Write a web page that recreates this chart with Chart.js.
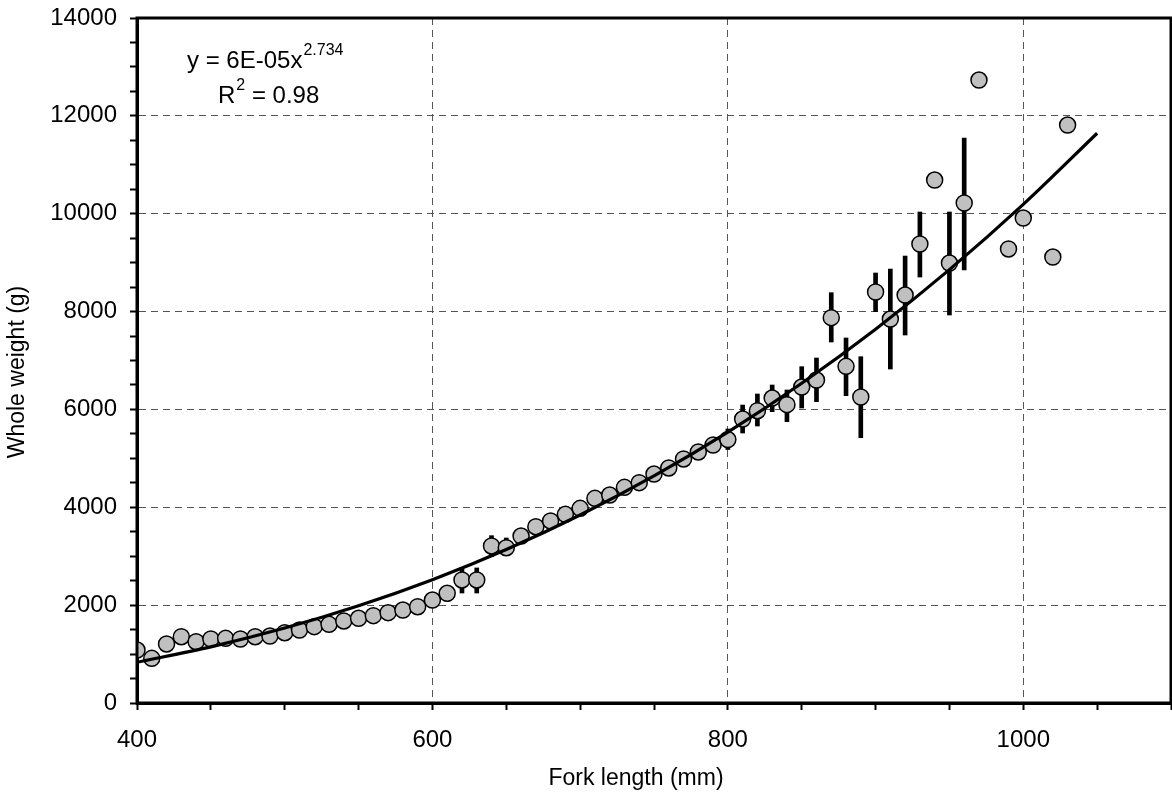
<!DOCTYPE html>
<html>
<head>
<meta charset="utf-8">
<script src="https://cdn.jsdelivr.net/npm/chart.js@4.4.1/dist/chart.umd.min.js"></script>
<style>
  html, body { margin: 0; padding: 0; background: #fff; overflow: hidden; }
  #wrap { width: 1172px; height: 801px; }
</style>
</head>
<body>
<div id="wrap"><canvas id="grafico"></canvas></div>
<script>
// fork length (mm) and mean whole weight (g)
const comprimento = [400, 410, 420, 430, 440, 450, 460, 470, 480, 490,
  500, 510, 520, 530, 540, 550, 560, 570, 580, 590,
  600, 610, 620, 630, 640, 650, 660, 670, 680, 690,
  700, 710, 720, 730, 740, 750, 760, 770, 780, 790,
  800, 810, 820, 830, 840, 850, 860, 870, 880, 890,
  900, 910, 920, 930, 940, 950, 960, 970, 990, 1000, 1020, 1030];
const peso = [1083, 913, 1206, 1355, 1253, 1308, 1322, 1308, 1355, 1369,
  1437, 1492, 1560, 1608, 1676, 1731, 1785, 1846, 1900, 1968,
  2105, 2242, 2514, 2514, 3209, 3174, 3413, 3603, 3720, 3856,
  3979, 4183, 4251, 4408, 4503, 4680, 4803, 4987, 5130, 5273,
  5385, 5804, 5974, 6233, 6097, 6458, 6601, 7875, 6881, 6254,
  8400, 7848, 8338, 9381, 10689, 8992, 10219, 12732, 9279, 9912, 9115, 11813];

// error bars (min / max)
const erroX = [610, 620, 630, 640, 650, 800, 810, 820, 830, 840, 850,
  860, 870, 880, 890, 900, 910, 920, 930, 950, 960];
const erroMin = [2080, 2248, 2248, 2990, 3066, 5180, 5518, 5661, 5954, 5750, 6029,
  6158, 7378, 6281, 5422, 7998, 6826, 7521, 8706, 7930, 8849];
const erroMax = [2400, 2760, 2760, 3420, 3372, 5600, 6090, 6315, 6499, 6397, 6874,
  7051, 8386, 7460, 7078, 8788, 8869, 9135, 10035, 10035, 11547];

// power trend line
const tendX = [400, 450, 500, 550, 600, 650, 700, 750, 800, 850, 900, 950, 1000, 1050];
const tendY = [832, 1148, 1532, 1988, 2521, 3138, 3843, 4641, 5536, 6535, 7639, 8857, 10190, 11644];

const equacao = 'y = 6E-05x';
const expoente = '2.734';
const r2Valor = ' = 0.98';

const tituloX = 'Fork length (mm)';
const tituloY = 'Whole weight (g)';

const fonte = '"Liberation Sans", Arial, sans-serif';

const moldura = {
  id: 'moldura',
  afterDraw(chart) {
    const { ctx, chartArea: a } = chart;
    ctx.save();
    ctx.strokeStyle = '#000';
    ctx.lineWidth = 3;
    ctx.strokeRect(a.left, a.top, a.right - a.left, a.bottom - a.top);

    // axis titles
    ctx.fillStyle = '#000';
    ctx.font = '23px ' + fonte;
    ctx.textAlign = 'center';
    ctx.textBaseline = 'middle';
    ctx.fillText(tituloX, 636, 779);
    ctx.save();
    ctx.translate(18, 372);
    ctx.rotate(-Math.PI / 2);
    ctx.fillText(tituloY, 0, 0);
    ctx.restore();

    // equation text
    ctx.textAlign = 'left';
    ctx.textBaseline = 'alphabetic';
    ctx.font = '24px ' + fonte;
    ctx.fillText(equacao, 187, 68);
    const w1 = ctx.measureText(equacao).width;
    ctx.font = '16px ' + fonte;
    ctx.fillText(expoente, 187 + w1 + 1, 55);

    ctx.font = '24px ' + fonte;
    ctx.fillText('R', 218, 103);
    const wR = ctx.measureText('R').width;
    ctx.font = '16px ' + fonte;
    ctx.fillText('2', 218 + wR + 1, 90);
    const w2 = ctx.measureText('2').width;
    ctx.font = '24px ' + fonte;
    ctx.fillText(r2Valor, 218 + wR + w2 + 1, 103);
    ctx.restore();
  }
};

const ctx = document.getElementById('grafico').getContext('2d');
new Chart(ctx, {
  type: 'scatter',
  data: {
    datasets: [
      {
        type: 'line',
        data: tendX.map((x, i) => ({ x, y: tendY[i] })),
        borderColor: '#000',
        borderWidth: 3.2,
        pointRadius: 0,
        cubicInterpolationMode: 'monotone',
        order: 0
      },
      {
        type: 'scatter',
        data: comprimento.map((x, i) => ({ x, y: peso[i] })),
        pointRadius: 8,
        pointBackgroundColor: '#c0c0c0',
        pointBorderColor: '#000',
        pointBorderWidth: 1.5,
        order: 1
      },
      {
        type: 'bar',
        data: erroX.map((x, i) => ({ x, y: [erroMin[i], erroMax[i]] })),
        backgroundColor: '#000',
        barThickness: 4,
        grouped: false,
        order: 2
      }
    ]
  },
  options: {
    responsive: true,
    maintainAspectRatio: false,
    animation: false,
    events: [],
    layout: { autoPadding: false, padding: { top: 18, right: 1, left: 0, bottom: 0 } },
    plugins: {
      legend: { display: false },
      tooltip: { enabled: false }
    },
    scales: {
      x: {
        type: 'linear',
        min: 400,
        max: 1100,
        offset: false,
        afterFit: s => {
          s.height = 98;
          s.paddingLeft = 0;
          s.paddingRight = 0;
        },
        ticks: {
          stepSize: 50,
          autoSkip: false,
          maxRotation: 0,
          padding: 16,
          color: '#000',
          font: { family: fonte, size: 24 },
          callback: v => (v % 200 === 0 ? v : '')
        },
        grid: {
          offset: false,
          color: c => (c.tick && c.tick.value % 200 === 0 ? '#555' : 'rgba(0,0,0,0)'),
          lineWidth: 1,
          tickLength: 7,
          tickColor: '#000',
          tickWidth: 2
        },
        border: { color: '#000', width: 3, dash: [7, 5] }
      },
      y: {
        min: 0,
        max: 14000,
        afterFit: s => {
          s.width = 137;
          s.paddingTop = 0;
          s.paddingBottom = 0;
        },
        ticks: {
          stepSize: 500,
          autoSkip: false,
          padding: 13,
          color: '#000',
          font: { family: fonte, size: 24 },
          callback: v => (v % 2000 === 0 ? v : '')
        },
        grid: {
          color: c => (c.tick && c.tick.value % 2000 === 0 ? '#555' : 'rgba(0,0,0,0)'),
          lineWidth: 1,
          tickLength: 7,
          tickColor: '#000',
          tickWidth: 2
        },
        border: { color: '#000', width: 3, dash: [7, 5] }
      }
    }
  },
  plugins: [moldura]
});
</script>
</body>
</html>
